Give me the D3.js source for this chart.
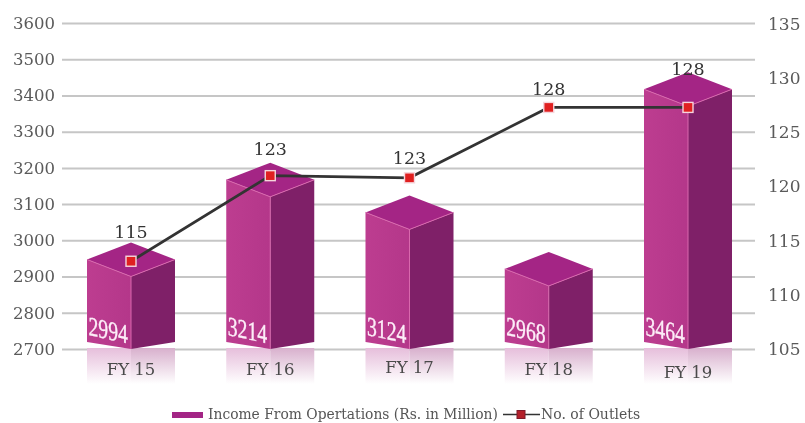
<!DOCTYPE html>
<html><head><meta charset="utf-8">
<script src="https://cdn.jsdelivr.net/npm/d3@7"></script>
<style>html,body{margin:0;padding:0;background:#fff}svg{display:block;filter:blur(.6px)}</style>
</head><body><svg id="c" width="805" height="423"></svg>
<script>
const categories=["FY 15","FY 16","FY 17","FY 18","FY 19"];
const income=[2994,3214,3124,2968,3464];
const outletsPlotted=[113.1,121,120.8,127.3,127.3];
const outletLabels=[115,123,123,128,128];
const leftTicks=[2700,2800,2900,3000,3100,3200,3300,3400,3500,3600];
const rightTicks=[105,110,115,120,125,130,135];
const seriesNames=["Income From Opertations (Rs. in Million)","No. of Outlets"];

const labelRise=[30,27,20,19,39];
const catDy=[0,0,-2,0,3];
const SERIF="'DejaVu Serif',serif";
const svg=d3.select("#c");
const y=d3.scaleLinear().domain([2700,3600]).range([349,23]);
const yR=d3.scaleLinear().domain([105,135]).range([349,24]);
const x=d3.scalePoint().domain(categories).range([131,688]);
const halfW=44, rise=17, baseY=349;

const defs=svg.append("defs");
const gFront=defs.append("linearGradient").attr("id","front");
gFront.append("stop").attr("offset","0").attr("stop-color","#bd3d90");
gFront.append("stop").attr("offset","1").attr("stop-color","#b4378a");
const gRefl=defs.append("linearGradient").attr("id","refl").attr("x2",0).attr("y2",1);
gRefl.append("stop").attr("offset","0").attr("stop-color","#e6bedb");
gRefl.append("stop").attr("offset","1").attr("stop-color","#fff");
const gRefl2=defs.append("linearGradient").attr("id","refl2").attr("x2",0).attr("y2",1);
gRefl2.append("stop").attr("offset","0").attr("stop-color","#d8b0cd");
gRefl2.append("stop").attr("offset","1").attr("stop-color","#fff");

// grid + axes
const gl=svg.append("g").attr("transform","translate(58,0)")
  .call(d3.axisLeft(y).tickValues(leftTicks).tickSize(-697).tickPadding(3).tickFormat(d3.format("d")));
gl.select(".domain").remove();
gl.selectAll(".tick line").attr("x1",4).attr("x2",697).attr("stroke","#c6c6c6").attr("stroke-width",2);
gl.selectAll("text").attr("font-family",SERIF).attr("font-size",16.5).attr("fill","#5a5a5a");

const gr=svg.append("g").attr("transform","translate(756,0)")
  .call(d3.axisRight(yR).tickValues(rightTicks).tickSize(0).tickPadding(12));
gr.select(".domain").remove();
gr.selectAll("text").attr("font-family",SERIF).attr("font-size",17).attr("fill","#5a5a5a");

// reflections
const bars=svg.append("g").selectAll("g").data(categories).join("g");
bars.append("rect").attr("x",d=>x(d)-halfW).attr("width",halfW).attr("y",baseY-1).attr("height",36).attr("fill","url(#refl)");
bars.append("rect").attr("x",d=>x(d)).attr("width",halfW).attr("y",baseY-1).attr("height",36).attr("fill","url(#refl2)");

const pts=a=>a.map(p=>p.join(",")).join(" ");
// front-left face
bars.append("polygon").attr("fill","url(#front)").attr("points",(d,i)=>{const c=x(d),t=y(income[i]);
  return pts([[c-halfW,t+rise],[c,t+2*rise],[c,baseY],[c-halfW,baseY-7]]);});
// right face
bars.append("polygon").attr("fill","#7f2068").attr("points",(d,i)=>{const c=x(d),t=y(income[i]);
  return pts([[c+halfW,t+rise],[c,t+2*rise],[c,baseY],[c+halfW,baseY-7]]);});
// top face
bars.append("polygon").attr("fill","#a42585").attr("points",(d,i)=>{const c=x(d),t=y(income[i]);
  return pts([[c,t],[c+halfW,t+rise],[c,t+2*rise],[c-halfW,t+rise]]);});
// highlight edges
bars.append("polyline").attr("fill","none").attr("stroke","#d968ad").attr("stroke-width",1).attr("points",(d,i)=>{const c=x(d),t=y(income[i]);
  return pts([[c-halfW,t+rise],[c,t+2*rise],[c+halfW,t+rise]]);});
bars.append("line").attr("stroke","#d968ad").attr("x1",d=>x(d)).attr("x2",d=>x(d)).attr("y1",(d,i)=>y(income[i])+2*rise).attr("y2",baseY);

// value labels on the front face
bars.append("text").text((d,i)=>income[i]).attr("fill","#fdeef8").attr("stroke","#fdeef8").attr("stroke-width",.4)
  .attr("font-family","'Liberation Serif',serif").attr("font-size",27)
  .attr("transform",d=>`translate(${x(d)-42.5},${baseY-14}) skewY(12) scale(.73,1)`);

// category labels
svg.append("g").selectAll("text").data(categories).join("text").text(d=>d)
  .attr("x",d=>x(d)).attr("y",(d,i)=>375+catDy[i]).attr("text-anchor","middle")
  .attr("font-family",SERIF).attr("font-size",16.5).attr("fill","#4a4a4a");

// line
const line=d3.line().x(d=>x(d)).y((d,i)=>yR(outletsPlotted[i]));
svg.append("path").datum(categories).attr("d",line).attr("fill","none").attr("stroke","#333").attr("stroke-width",2.8);
svg.append("g").selectAll("rect").data(categories).join("rect")
  .attr("x",d=>x(d)-5).attr("y",(d,i)=>yR(outletsPlotted[i])-5).attr("width",10).attr("height",10)
  .attr("fill","#e02020").attr("stroke","#f6d5dc").attr("stroke-width",1.4);
svg.append("g").selectAll("text").data(categories).join("text").text((d,i)=>outletLabels[i])
  .attr("x",d=>x(d)).attr("y",(d,i)=>yR(outletsPlotted[i])-labelRise[i]+6.5).attr("text-anchor","middle")
  .attr("font-family",SERIF).attr("font-size",17.5).attr("fill","#333");

// legend
const lg=svg.append("g");
lg.append("rect").attr("x",172).attr("y",412).attr("width",31).attr("height",6).attr("fill","#a32585");
lg.append("text").text(seriesNames[0]).attr("x",208).attr("y",419).attr("font-family",SERIF).attr("font-size",13.85).attr("fill","#555");
lg.append("line").attr("x1",503).attr("x2",540).attr("y1",414.5).attr("y2",414.5).attr("stroke","#333").attr("stroke-width",1.6);
lg.append("rect").attr("x",517).attr("y",410.5).attr("width",8).attr("height",8).attr("fill","#b3202a").attr("stroke","#7f1a2a");
lg.append("text").text(seriesNames[1]).attr("x",541).attr("y",419).attr("font-family",SERIF).attr("font-size",14).attr("fill","#555");
</script></body></html>
